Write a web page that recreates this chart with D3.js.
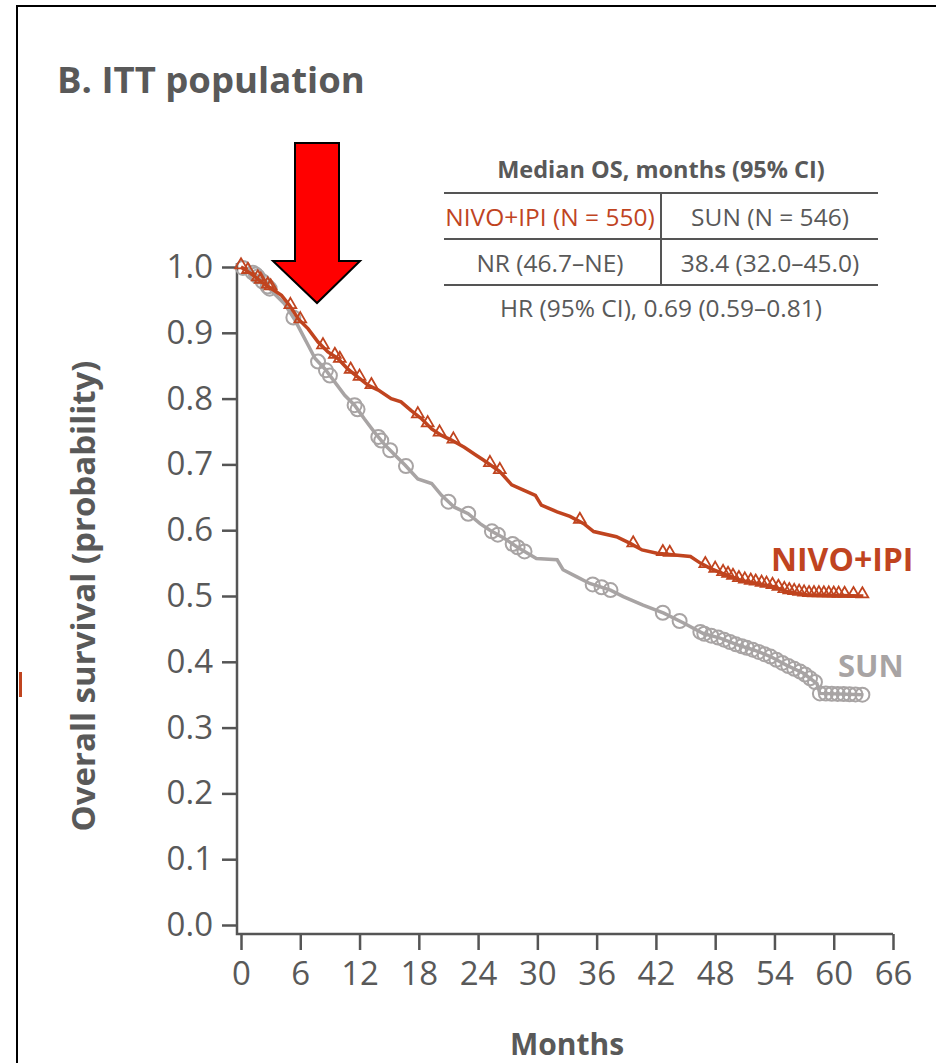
<!DOCTYPE html>
<html><head><meta charset="utf-8">
<script src="https://cdn.jsdelivr.net/npm/d3@7"></script>
<style>
html,body{margin:0;padding:0;background:#fff;}
svg{display:block;font-family:"Open Sans",sans-serif;}
</style></head>
<body><svg id="c" width="936" height="1063"></svg>
<script>
// ---- data ----
const xTicks = [0,6,12,18,24,30,36,42,48,54,60,66];
const yTicks = [0,0.1,0.2,0.3,0.4,0.5,0.6,0.7,0.8,0.9,1.0];

const nivoTime = [0,1.0,2.1,3.1,4.1,4.9,5.8,6.8,7.8,8.8,9.8,10.8,11.8,12.9,13.9,15.2,16.2,17.2,18.3,19.3,20.3,21.3,22.6,23.8,24.5,26.2,27.4,28.6,29.8,30.4,32.0,33.3,34.7,35.7,38.0,39.4,40.6,42.1,45.5,46.5,47.5,48.8,50.5,52.2,53.9,55.2,57.3,63.0];
const nivoSurv = [1.000,0.990,0.977,0.967,0.957,0.942,0.921,0.906,0.886,0.871,0.861,0.845,0.833,0.820,0.813,0.800,0.795,0.782,0.769,0.754,0.744,0.737,0.726,0.714,0.707,0.689,0.669,0.661,0.653,0.638,0.628,0.621,0.610,0.598,0.590,0.580,0.570,0.565,0.560,0.550,0.542,0.534,0.524,0.519,0.514,0.507,0.502,0.500];

const sunTime = [0,1.4,2.4,3.4,4.4,5.4,6.1,6.8,7.5,8.5,9.5,10.5,11.5,12.5,13.5,14.6,15.6,16.6,17.9,19.3,20.3,21.6,23.0,24.2,25.2,26.6,27.9,29.9,32.0,32.6,34.0,35.3,37.4,38.7,40.7,42.8,44.8,46.8,48.5,50.2,51.9,53.6,55.2,56.9,58.3,58.6,63.0];
const sunSurv = [1.000,0.990,0.975,0.959,0.944,0.921,0.901,0.881,0.861,0.845,0.825,0.805,0.790,0.769,0.749,0.729,0.714,0.699,0.678,0.671,0.653,0.635,0.625,0.610,0.600,0.588,0.575,0.557,0.555,0.540,0.529,0.519,0.509,0.499,0.486,0.474,0.459,0.443,0.436,0.426,0.418,0.408,0.395,0.383,0.367,0.352,0.350];

const nivoCensor = [0,0.7,1.7,2.0,2.7,3.0,5.0,6.0,8.3,9.5,10.0,11.1,12.0,13.2,17.9,18.9,20.1,21.5,25.2,26.2,34.3,39.7,42.7,43.4,47.0,48.0,48.8,49.3,49.8,50.4,51.0,51.6,52.1,52.7,53.2,53.8,54.4,55.0,55.5,56.0,56.5,57.0,57.5,58.0,58.5,59.0,59.5,60.0,60.5,61.1,62.0,62.9];
const sunCensor = [0.2,1.2,1.5,1.7,2.2,2.7,2.9,5.3,7.8,8.6,9.0,11.5,11.8,13.9,14.2,15.1,16.7,21.0,23.0,25.4,26.0,27.5,28.0,28.7,35.6,36.5,37.4,42.7,44.4,46.5,46.9,47.6,48.3,48.9,49.5,50.1,50.7,51.2,51.8,52.4,53.0,53.6,54.2,54.8,55.4,56.0,56.6,57.1,57.6,58.1,58.6,59.2,59.8,60.4,61.0,61.6,62.2,62.9];

const titleText = "B. ITT population";
const tableHeader = "Median OS, months (95% CI)";
const tableRows = [["NIVO+IPI (N = 550)","SUN (N = 546)"],["NR (46.7–NE)","38.4 (32.0–45.0)"]];
const hrText = "HR (95% CI), 0.69 (0.59–0.81)";

// ---- styles ----
const cNivo = "#c0441f", cSun = "#a8a4a4", cText = "#595959", cAxis = "#555555";

const svg = d3.select("#c");
const x = d3.scaleLinear().domain([0,66]).range([241,893]);
const y = d3.scaleLinear().domain([0,1]).range([925,267]);

// frame
svg.append("rect").attr("x",17).attr("y",6).attr("width",1000).attr("height",1200)
  .attr("fill","none").attr("stroke","#000").attr("stroke-width",2);
svg.append("rect").attr("x",19).attr("y",672).attr("width",3).attr("height",25).attr("fill",cNivo);

// title
svg.append("text").attr("x",57).attr("y",93).attr("font-size",36.5).attr("font-weight",700)
  .attr("fill",cText).text(titleText);

// axes
const axY = svg.append("g").attr("transform","translate(237,0)")
  .call(d3.axisLeft(y).tickValues(yTicks).tickFormat(d3.format(".1f")).tickSize(15).tickPadding(9).tickSizeOuter(0));
const axX = svg.append("g").attr("transform","translate(0,934)")
  .call(d3.axisBottom(x).tickValues(xTicks).tickFormat(d3.format("d")).tickSize(16).tickPadding(12).tickSizeOuter(0));
[axX,axY].forEach(a=>{
  a.select(".domain").remove();
  a.selectAll(".tick line").attr("stroke",cAxis).attr("stroke-width",2.5);
  a.selectAll(".tick text").attr("fill",cText).attr("font-size",33).attr("font-family","Open Sans");
});
svg.append("path").attr("d",`M237,${y(1)-4}V934H${x(66)}`).attr("fill","none").attr("stroke",cAxis).attr("stroke-width",2.5);

// axis titles
svg.append("text").attr("transform","translate(83,596) rotate(-90)").attr("text-anchor","middle")
  .attr("dy","0.35em").attr("font-size",33).attr("font-weight",700).attr("fill",cText).text("Overall survival (probability)");
svg.append("text").attr("x",567).attr("y",1055).attr("text-anchor","middle")
  .attr("font-size",30).attr("font-weight",700).attr("fill",cText).text("Months");

// curves
const line = d3.line().x(d=>x(d[0])).y(d=>y(d[1]));
const series = [
  {t:sunTime,s:sunSurv,c:sunCensor,col:cSun,shape:"circle"},
  {t:nivoTime,s:nivoSurv,c:nivoCensor,col:cNivo,shape:"tri"}
];
series.forEach(sr=>{
  const curveAt = d3.scaleLinear().domain(sr.t).range(sr.s).clamp(true);
  svg.append("path").datum(d3.zip(sr.t,sr.s)).attr("d",line).attr("fill","none")
    .attr("stroke",sr.col).attr("stroke-width",3.5).attr("stroke-linejoin","miter");
  const pts = sr.c.map(t=>[t,curveAt(t)]);
  if(sr.shape==="circle"){
    svg.append("g").selectAll("circle").data(pts).join("circle")
      .attr("cx",d=>x(d[0])).attr("cy",d=>y(d[1])).attr("r",7)
      .attr("fill","none").attr("stroke",sr.col).attr("stroke-width",2);
  } else {
    const sym = d3.symbol().type(d3.symbolTriangle).size(60);
    svg.append("g").selectAll("path").data(pts).join("path")
      .attr("transform",d=>`translate(${x(d[0])},${y(d[1])-2})`).attr("d",sym)
      .attr("fill","none").attr("stroke",sr.col).attr("stroke-width",1.8);
  }
});

// series labels
svg.append("text").attr("x",771).attr("y",571).attr("font-size",32).attr("font-weight",700).attr("fill",cNivo).text("NIVO+IPI");
svg.append("text").attr("x",838).attr("y",677).attr("font-size",31).attr("font-weight",700).attr("fill",cSun).text("SUN");

// table
const tb = svg.append("g");
tb.append("text").attr("x",661).attr("y",178).attr("text-anchor","middle").attr("font-size",23.5).attr("font-weight",700).attr("fill",cText).text(tableHeader);
[193,239,285].forEach(yy=>tb.append("line").attr("x1",444).attr("x2",878).attr("y1",yy).attr("y2",yy).attr("stroke",cAxis).attr("stroke-width",2));
tb.append("line").attr("x1",661).attr("x2",661).attr("y1",193).attr("y2",285).attr("stroke",cAxis).attr("stroke-width",2);
const rowY = [226,272], colX = [550,770];
tableRows.forEach((r,i)=>r.forEach((txt,j)=>{
  tb.append("text").attr("x",colX[j]).attr("y",rowY[i]).attr("text-anchor","middle").attr("font-size",24.5)
    .attr("fill",(i===0&&j===0)?cNivo:cText).text(txt);
}));
tb.append("text").attr("x",661).attr("y",317).attr("text-anchor","middle").attr("font-size",24.5).attr("fill",cText).text(hrText);

// red arrow
const arrow = [[295,143],[339,143],[339,261],[360,261],[317,303],[273,261],[295,261]];
svg.append("path").attr("d","M"+arrow.map(p=>p.join(",")).join("L")+"Z")
  .attr("fill","#ff0000").attr("stroke","#000").attr("stroke-width",2).attr("stroke-linejoin","miter");
</script></body></html>
